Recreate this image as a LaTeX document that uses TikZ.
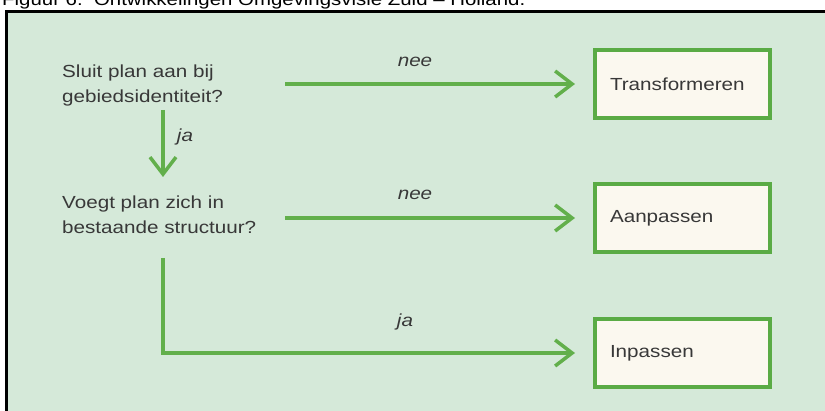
\documentclass[tikz,border=0pt]{standalone}
\usepackage{fontspec}
\setmainfont{Liberation Sans}[FakeStretch=1.18]
\usetikzlibrary{arrows.meta}
\definecolor{bggreen}{HTML}{D5E9D9}
\definecolor{boxgreen}{HTML}{5AAB45}
\definecolor{arrgreen}{HTML}{62AF4B}
\definecolor{cream}{HTML}{FBF8EF}
\definecolor{txt}{HTML}{383838}
\tikzset{
  boxnode/.style={draw=boxgreen, line width=4pt, fill=cream, minimum width=175pt, minimum height=68pt,
    text width=145pt, inner xsep=15pt, align=left, text=txt, font=\fontsize{17.5}{25}\selectfont},
  question/.style={anchor=west, inner sep=0pt, align=left, text=txt, font=\fontsize{17.5}{25}\selectfont},
  lbl/.style={inner sep=0pt, text=txt, font=\fontsize{17.5}{21}\selectfont\itshape},
  arr/.style={draw=arrgreen, line width=3.5pt, -{Straight Barb[length=17pt,width=26pt]}}
}
\begin{document}
\begin{tikzpicture}[x=1pt,y=-1pt]
\useasboundingbox (0,0) rectangle (825,411);
\clip (0,0) rectangle (825,411);
% title (cut off at the top, as in the reference)
\node[anchor=base west, inner sep=0pt, text=black, font=\fontsize{17.3}{20}\selectfont] (title) at (2,6) {Figuur 6:\ \ Ontwikkelingen Omgevingsvisie Zuid -- Holland.};
% background panel and frame
\fill[bggreen] (6.5,12) rectangle (830,420);
\draw[black, line width=3pt] (6.5,420) -- (6.5,12) -- (830,12);
% questions
\node[question] (q1) at (62,85) {Sluit plan aan bij\\gebiedsidentiteit?};
\node[question] (q2) at (62,215) {Voegt plan zich in\\bestaande structuur?};
% outcome boxes
\node[boxnode] (b1) at (682.5,84) {Transformeren};
\node[boxnode] (b2) at (682.5,218) {Aanpassen};
\node[boxnode] (b3) at (682.5,353) {Inpassen};
% connector points
\coordinate (s1) at (285,84);
\coordinate (s2) at (285,218);
\coordinate (v1a) at (163,110);
\coordinate (v1b) at (163,177);
\coordinate (v2a) at (163,258);
% connectors
\draw[arr, shorten >=18pt] (s1) -- (b1.west);
\draw[arr, shorten >=18pt] (s2) -- (b2.west);
\draw[arr] (v1a) -- (v1b);
\draw[arr, shorten >=18pt] (v2a) |- (b3.west);
% labels
\node[lbl] (n1) at (415,62) {nee};
\node[lbl] (n2) at (415,195) {nee};
\node[lbl] (j1) at (185,137) {ja};
\node[lbl] (j2) at (405,322) {ja};
\end{tikzpicture}
\end{document}
